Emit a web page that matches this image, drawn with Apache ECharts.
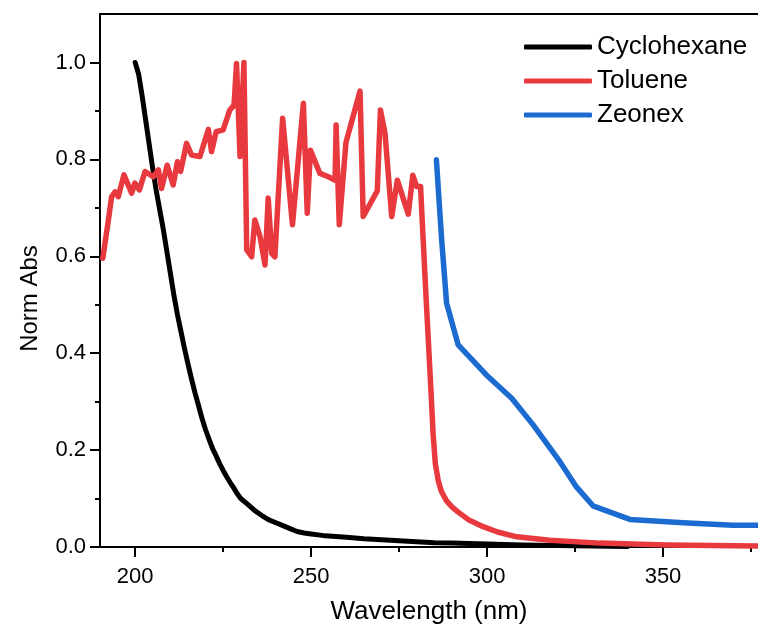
<!DOCTYPE html>
<html>
<head>
<meta charset="utf-8">
<script src="https://cdn.jsdelivr.net/npm/echarts@6/dist/echarts.min.js"></script>
<style>html,body{margin:0;padding:0;background:#fff}#c{width:758px;height:630px}</style>
</head>
<body>
<div id="c"></div>
<script>
// ---- data ----
const seriesNames = ['Cyclohexane', 'Toluene', 'Zeonex'];

const cycloX = [200,201,202,203,204,205,206,207,208,209,210,211,212,213,214,215,216,217,218,219,220,221,222,223,224,225,226,227,228,229,230,232,234,236,238,240,242,244,246,248,250,252,254,256,258,260,265,270,275,280,285,290,295,300,310,320,330,340];
const cycloY = [1.0,0.975,0.93,0.88,0.83,0.78,0.735,0.695,0.655,0.61,0.565,0.52,0.48,0.445,0.41,0.378,0.347,0.318,0.292,0.265,0.242,0.222,0.203,0.188,0.172,0.158,0.145,0.133,0.122,0.11,0.10,0.088,0.075,0.065,0.056,0.05,0.044,0.038,0.032,0.029,0.027,0.025,0.023,0.022,0.021,0.02,0.017,0.015,0.013,0.011,0.009,0.008,0.007,0.006,0.004,0.003,0.002,0.001];

const tolX = [190.8,192.4,193.3,194.3,195.2,196.8,199.0,199.9,201.2,202.8,205.1,206.6,207.5,209.1,210.8,212.0,212.9,214.6,216.0,218.4,220.8,221.7,223.0,225.0,226.9,228.1,228.8,229.8,230.9,231.7,233.1,234.0,235.5,236.9,237.8,238.8,239.7,241.9,244.7,247.8,248.9,249.8,252.5,254.9,256.8,257.1,258.0,259.9,263.9,264.8,268.8,269.7,271.0,272.9,274.5,277.6,278.9,280.0,281.1,281.8,282.8,283.8,284.7,285.3,286.1,287.0,288.5,290.0,291.8,295.0,298.9,303.0,308.4,317.8,332.0,351.0,377.0];
const tolY = [0.596,0.675,0.723,0.733,0.723,0.768,0.730,0.751,0.737,0.775,0.764,0.778,0.740,0.788,0.747,0.795,0.775,0.833,0.809,0.806,0.862,0.816,0.857,0.861,0.902,0.912,0.998,0.806,1.0,0.613,0.599,0.675,0.640,0.582,0.720,0.606,0.599,0.885,0.665,0.916,0.689,0.819,0.771,0.764,0.757,0.871,0.665,0.835,0.941,0.682,0.735,0.902,0.854,0.682,0.757,0.687,0.767,0.744,0.744,0.640,0.496,0.359,0.230,0.172,0.138,0.115,0.095,0.083,0.072,0.055,0.042,0.031,0.021,0.014,0.008,0.004,0.002];

const zeoX = [285.6,287.1,288.5,291.8,299.8,307.0,313.1,320.7,325.4,330.1,340.6,355.7,369.9,377.0];
const zeoY = [0.799,0.634,0.503,0.417,0.355,0.307,0.252,0.176,0.124,0.085,0.057,0.050,0.045,0.045];

const xMajorTicks = [200, 250, 300, 350];
const xMinorTicks = [225, 275, 325, 375];
const yMajorTicks = [0, 0.2, 0.4, 0.6, 0.8, 1.0];
const yMinorTicks = [0.1, 0.3, 0.5, 0.7, 0.9];

// ---- chart ----
const zip = (xs, ys) => xs.map((x, i) => [x, ys[i]]);
const colors = ['#000000', '#e8393e', '#1c6bd0'];
const font = 'Liberation Sans, Arial, sans-serif';
const XMIN = 190, XMAX = 377, YMIN = 0, YMAX = 1.1;

const chart = echarts.init(document.getElementById('c'), null, { renderer: 'canvas' });
chart.setOption({
  animation: false,
  backgroundColor: '#ffffff',
  grid: { left: 100, top: 14, width: 658, height: 533, containLabel: false },
  legend: {
    orient: 'vertical', left: 519, top: 29,
    itemWidth: 68, itemHeight: 5, itemGap: 8, itemTextGap: 5,
    icon: 'roundRect',
    textStyle: { fontFamily: font, fontSize: 26, color: '#000' },
    data: seriesNames
  },
  xAxis: [
    {
      type: 'value', position: 'bottom', min: XMIN, max: XMAX,
      name: 'Wavelength (nm)', nameLocation: 'middle', nameGap: 52,
      nameTextStyle: { fontFamily: font, fontSize: 26, color: '#000' },
      axisLine: { show: true, lineStyle: { color: '#000', width: 2 } },
      axisTick: { show: true, inside: false, length: 10, lineStyle: { color: '#000', width: 2 }, customValues: xMajorTicks },
      axisLabel: { show: true, margin: 19, fontFamily: font, fontSize: 22, color: '#000', customValues: xMajorTicks },
      splitLine: { show: false }
    },
    {
      type: 'value', position: 'bottom', min: XMIN, max: XMAX,
      axisLine: { show: false },
      axisTick: { show: true, inside: false, length: 5, lineStyle: { color: '#000', width: 2 }, customValues: xMinorTicks },
      axisLabel: { show: false },
      splitLine: { show: false }
    },
    {
      type: 'value', position: 'top', min: XMIN, max: XMAX,
      axisLine: { show: true, lineStyle: { color: '#000', width: 2 } },
      axisTick: { show: false }, axisLabel: { show: false }, splitLine: { show: false }
    }
  ],
  yAxis: [
    {
      type: 'value', position: 'left', min: YMIN, max: YMAX,
      name: 'Norm Abs', nameLocation: 'middle', nameGap: 58,
      nameTextStyle: { fontFamily: font, fontSize: 24, color: '#000', padding: [0, 36, 0, 0] },
      axisLine: { show: true, lineStyle: { color: '#000', width: 2 } },
      axisTick: { show: true, inside: false, length: 10, lineStyle: { color: '#000', width: 2 }, customValues: yMajorTicks },
      axisLabel: { show: true, margin: 14, fontFamily: font, fontSize: 22, color: '#000', customValues: yMajorTicks,
        formatter: v => v.toFixed(1) },
      splitLine: { show: false }
    },
    {
      type: 'value', position: 'left', min: YMIN, max: YMAX,
      axisLine: { show: false },
      axisTick: { show: true, inside: false, length: 5, lineStyle: { color: '#000', width: 2 }, customValues: yMinorTicks },
      axisLabel: { show: false },
      splitLine: { show: false }
    }
  ],
  series: [
    { name: seriesNames[0], type: 'line', data: zip(cycloX, cycloY), showSymbol: false, symbol: 'none',
      lineStyle: { color: colors[0], width: 5, cap: 'round', join: 'round' }, itemStyle: { color: colors[0] }, z: 2 },
    { name: seriesNames[1], type: 'line', data: zip(tolX, tolY), showSymbol: false, symbol: 'none',
      lineStyle: { color: colors[1], width: 5.5, cap: 'round', join: 'round' }, itemStyle: { color: colors[1] }, z: 3 },
    { name: seriesNames[2], type: 'line', data: zip(zeoX, zeoY), showSymbol: false, symbol: 'none',
      lineStyle: { color: colors[2], width: 5.5, cap: 'round', join: 'round' }, itemStyle: { color: colors[2] }, z: 4 }
  ]
});
</script>
</body>
</html>
